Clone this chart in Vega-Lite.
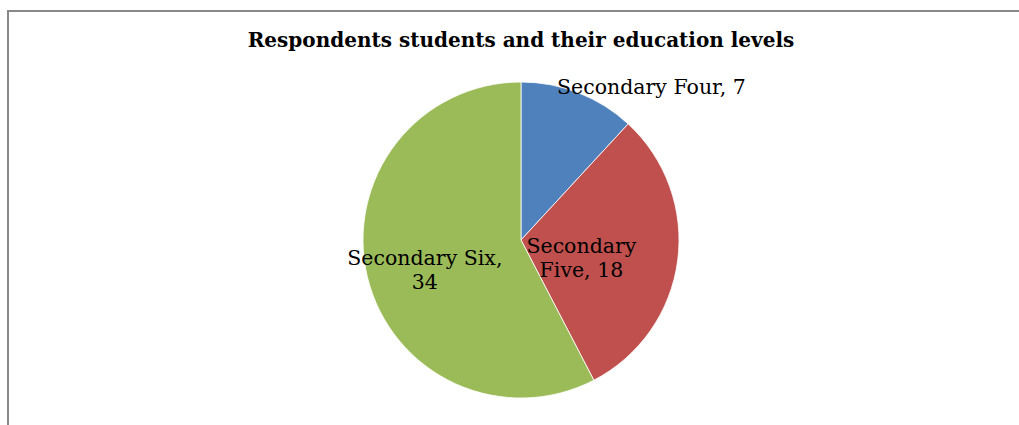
{
  "$schema": "https://vega.github.io/schema/vega-lite/v6.json",
  "autosize": "none",
  "width": 1026,
  "height": 458,
  "padding": {"left": 8, "top": 11, "right": 0, "bottom": 0},
  "background": "white",
  "view": {"stroke": "#898989", "strokeWidth": 2, "fill": "white"},
  "config": {
    "view": {"stroke": "#898989", "strokeWidth": 2},
    "text": {"lineBreak": "\n"}
  },
  "title": {
    "text": "Respondents students and their education  levels",
    "font": "DejaVu Serif",
    "fontSize": 20,
    "fontWeight": "bold",
    "color": "#000000",
    "anchor": "middle",
    "offset": -40
  },
  "data": {
    "values": [
      {"level": "Secondary Four", "count": 7, "ord": 1, "label": "Secondary Four, 7"},
      {"level": "Secondary Five", "count": 18, "ord": 2, "label": "Secondary\nFive, 18"},
      {"level": "Secondary Six", "count": 34, "ord": 3, "label": "Secondary Six,\n34"}
    ]
  },
  "encoding": {
    "theta": {"field": "count", "type": "quantitative", "stack": true},
    "order": {"field": "ord", "type": "quantitative"}
  },
  "layer": [
    {
      "mark": {"type": "arc", "outerRadius": 158, "stroke": "#ffffff", "strokeWidth": 0.8},
      "encoding": {
        "color": {
          "field": "level",
          "type": "nominal",
          "scale": {"domain": ["Secondary Four", "Secondary Five", "Secondary Six"], "range": ["#4F81BD", "#C0504D", "#9BBB59"]},
          "legend": null
        }
      }
    },
    {
      "mark": {"type": "text", "radius": 163, "dx": 71, "font": "DejaVu Serif", "fontSize": 20.5, "color": "#000000", "align": "center", "baseline": "middle"},
      "encoding": {
        "text": {"condition": {"test": "datum.level === 'Secondary Four'", "field": "label"}, "value": ""}
      }
    },
    {
      "mark": {"type": "text", "radius": 64, "dx": -3, "dy": -1, "font": "DejaVu Serif", "fontSize": 20.5, "color": "#000000", "align": "center", "baseline": "middle", "lineHeight": 24},
      "encoding": {
        "text": {"condition": {"test": "datum.level === 'Secondary Five'", "field": "label"}, "value": ""}
      }
    },
    {
      "mark": {"type": "text", "radius": 100, "dx": 1, "dy": -5, "font": "DejaVu Serif", "fontSize": 20.5, "color": "#000000", "align": "center", "baseline": "middle", "lineHeight": 24},
      "encoding": {
        "text": {"condition": {"test": "datum.level === 'Secondary Six'", "field": "label"}, "value": ""}
      }
    }
  ]
}
